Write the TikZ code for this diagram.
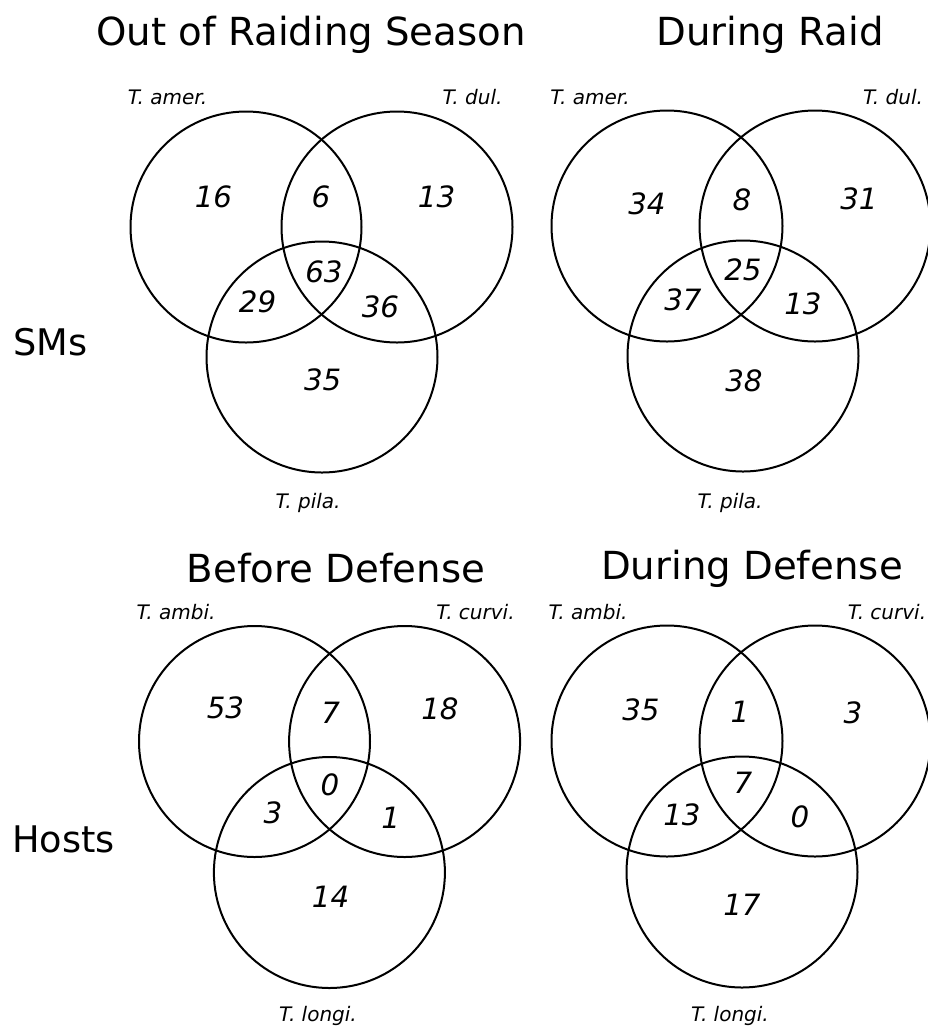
\documentclass[tikz,border=0pt]{standalone}
\usepackage{fontspec}
\setmainfont{DejaVu Sans}
\begin{document}
\begin{tikzpicture}[x=0.75pt,y=-0.75pt,
  vc/.style={circle,draw,line width=1.5pt,minimum size=173.25pt,inner sep=0pt},
  ttl/.style={anchor=base,inner sep=0pt,font=\fontsize{29}{35}\selectfont},
  side/.style={anchor=base west,inner sep=0pt,font=\fontsize{27.5}{33}\selectfont},
  sp/.style={anchor=base,inner sep=0pt,font=\fontsize{15}{18}\selectfont\itshape},
  num/.style={anchor=center,inner sep=0pt,font=\fontsize{22}{26}\selectfont\itshape}]
\useasboundingbox (0,0) rectangle (928,1026);
% ---------- top left ----------
\node[ttl] (t1) at (311,45) {Out of Raiding Season};
\node[sp] (l1a) at (167.5,104) {T. amer.};
\node[sp] (l1b) at (472.5,104) {T. dul.};
\node[sp] (l1c) at (308,508) {T. pila.};
\node[vc] (c1a) at (246,227) {};
\node[vc] (c1b) at (397,227) {};
\node[vc] (c1c) at (322,357) {};
\node[num] (n1a) at (213.5,197) {16};
\node[num] (n1ab) at (321,197) {6};
\node[num] (n1b) at (436.6,197) {13};
\node[num] (n1abc) at (324,272) {63};
\node[num] (n1ac) at (257.6,302) {29};
\node[num] (n1bc) at (380.5,307) {36};
\node[num] (n1c) at (322.7,380) {35};
\node[side] (sms) at (13,355) {SMs};
% ---------- top right ----------
\node[ttl] (t2) at (770,45) {During Raid};
\node[sp] (l2a) at (590,104) {T. amer.};
\node[sp] (l2b) at (893,104) {T. dul.};
\node[sp] (l2c) at (730,508) {T. pila.};
\node[vc] (c2a) at (667,226) {};
\node[vc] (c2b) at (815,226) {};
\node[vc] (c2c) at (743,356) {};
\node[num] (n2a) at (647,204) {34};
\node[num] (n2ab) at (742,200) {8};
\node[num] (n2b) at (859,199) {31};
\node[num] (n2abc) at (743,270) {25};
\node[num] (n2ac) at (683,300) {37};
\node[num] (n2bc) at (803,304) {13};
\node[num] (n2c) at (744,381) {38};
% ---------- bottom left ----------
\node[ttl] (t3) at (336,582) {Before Defense};
\node[sp] (l3a) at (176,619) {T. ambi.};
\node[sp] (l3b) at (475.5,619) {T. curvi.};
\node[sp] (l3c) at (318,1021) {T. longi.};
\node[vc] (c3a) at (254.5,741.5) {};
\node[vc] (c3b) at (404.6,741.5) {};
\node[vc] (c3c) at (329.4,872.5) {};
\node[num] (n3a) at (225.5,708) {53};
\node[num] (n3ab) at (330.6,713) {7};
\node[num] (n3b) at (440,709) {18};
\node[num] (n3abc) at (329.9,785) {0};
\node[num] (n3ac) at (273,813) {3};
\node[num] (n3bc) at (390.8,818) {1};
\node[num] (n3c) at (330.6,897) {14};
\node[side] (hosts) at (12,852) {Hosts};
% ---------- bottom right ----------
\node[ttl] (t4) at (752,579) {During Defense};
\node[sp] (l4a) at (588,619) {T. ambi.};
\node[sp] (l4b) at (887,619) {T. curvi.};
\node[sp] (l4c) at (730,1021) {T. longi.};
\node[vc] (c4a) at (667,741) {};
\node[vc] (c4b) at (815,741) {};
\node[vc] (c4c) at (742,872) {};
\node[num] (n4a) at (641,710) {35};
\node[num] (n4ab) at (740,712) {1};
\node[num] (n4b) at (853,713) {3};
\node[num] (n4abc) at (743,783) {7};
\node[num] (n4ac) at (682,815) {13};
\node[num] (n4bc) at (800,817) {0};
\node[num] (n4c) at (742,905) {17};
\end{tikzpicture}
\end{document}
